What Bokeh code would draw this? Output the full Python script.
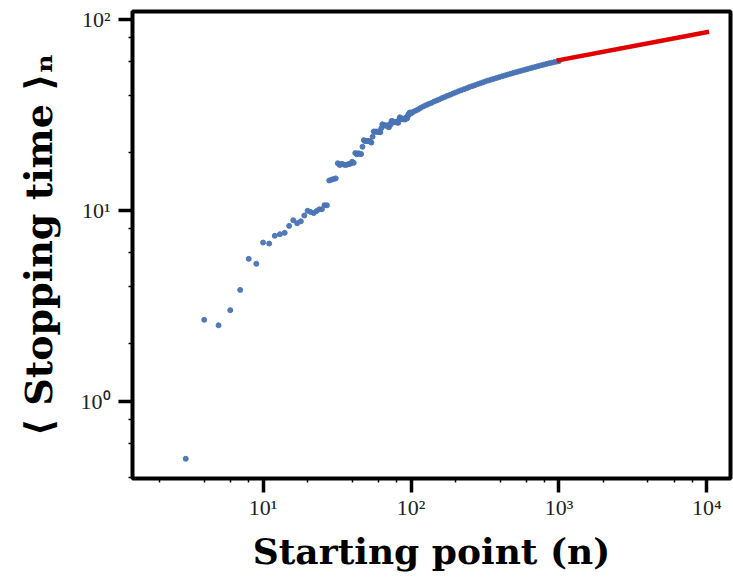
from bokeh.plotting import figure
from bokeh.models import Range1d, LogTicker, CustomJSTickFormatter, ColumnDataSource
from bokeh.embed import file_html
from bokeh.resources import INLINE

# ---- data ----
start_points = [3, 4, 5, 6, 7, 8, 9, 10, 11, 12, 13, 14, 15, 16, 17, 18, 19, 20,
                21, 22, 23, 24, 25, 26, 27, 28, 29, 30, 31, 32, 33, 34, 35, 36, 37,
                38, 39, 40, 41, 42, 43, 44, 45, 46, 47, 48, 49, 50, 51, 52, 53, 54,
                55, 56, 57, 58, 59, 60, 61, 62, 63, 64, 65, 66, 67, 68, 69, 70, 71,
                72, 73, 74, 75, 76, 77, 78, 79, 80, 81, 82, 83, 84, 85, 86, 87, 88,
                89, 90, 91, 92, 93, 94, 95, 96, 97, 98, 99, 100, 101,
                104, 108, 112, 116, 121, 126, 131, 137, 143, 149, 155, 162, 169,
                176, 184, 192, 200, 209, 218, 228, 238, 248, 259, 270, 282, 294,
                307, 320, 334, 349, 364, 380, 397, 414, 432, 451, 471, 491, 513,
                535, 558, 583, 608, 635, 662, 691, 721, 753, 786, 820, 856, 893,
                932, 973, 1001]
mean_stop = [0.5, 2.67, 2.5, 3.0, 3.83, 5.57, 5.25, 6.78, 6.7, 7.36, 7.5, 7.62,
             8.29, 8.87, 8.56, 8.76, 9.39, 9.95, 9.8, 9.67, 9.91, 10.13, 10.13,
             10.64, 10.62, 14.33, 14.46, 14.59, 14.7, 17.65, 17.25, 17.52, 17.38,
             17.26, 17.36, 17.46, 17.55, 17.97, 17.73, 19.95, 19.67, 19.88, 19.8,
             19.71, 21.54, 23.3, 23.04, 23.06, 23.08, 23.1, 22.87, 22.64, 24.3,
             25.89, 25.77, 25.88, 25.76, 25.86, 25.75, 25.64, 26.95, 28.22, 27.88,
             27.86, 27.85, 27.84, 27.63, 27.43, 27.24, 28.3, 28.21, 29.4, 29.3,
             29.09, 29.0, 28.91, 28.99, 29.06, 28.81, 28.73, 29.72, 30.69, 30.43,
             30.18, 30.17, 30.17, 30.02, 30.02, 29.88, 30.56, 30.41, 30.27, 31.06,
             31.84, 31.64, 32.53, 32.45, 32.37, 32.3,
             32.9, 33.3, 33.8, 34.4, 35.0, 35.5, 36.0, 36.5, 37.1, 37.6, 38.1,
             38.7, 39.2, 39.8, 40.3, 40.9, 41.4, 42.0, 42.5, 43.1, 43.6, 44.2,
             44.7, 45.2, 45.8, 46.3, 46.8, 47.4, 47.9, 48.4, 48.9, 49.4, 49.9,
             50.4, 50.9, 51.4, 51.9, 52.4, 52.9, 53.4, 53.9, 54.4, 54.9, 55.4,
             55.9, 56.4, 56.9, 57.4, 57.9, 58.4, 58.9, 59.3, 59.8, 60.2, 60.5]
fit_points = [1000, 10000]
fit_values = [61.2, 85.8]

x_label = "Starting point (n)"
y_label = "\u27e8 Stopping time \u27e9\u2099"

BLUE = "#4a74b4"
RED = "#e00000"

p = figure(width=733, height=578, x_axis_type="log", y_axis_type="log",
           x_range=Range1d(1.31, 14450), y_range=Range1d(0.394, 110),
           output_backend="svg", toolbar_location=None,
           min_border_left=132, min_border_right=3, min_border_top=11,
           min_border_bottom=100)

src = ColumnDataSource(dict(x=start_points, y=mean_stop))
p.scatter("x", "y", source=src, size=5, color=BLUE, alpha=0.95)
p.line(fit_points, fit_values, line_color=RED, line_width=4.5, line_cap="square")

p.xgrid.visible = False
p.ygrid.visible = False
p.outline_line_color = "black"
p.outline_line_width = 4
p.outline_line_alpha = 1
p.background_fill_color = "white"
p.border_fill_color = "white"

fmt = CustomJSTickFormatter(code="""
const sup = {'0':'\u2070','1':'\u00b9','2':'\u00b2','3':'\u00b3','4':'\u2074','-':'\u207b'};
const e = Math.round(Math.log10(tick));
return '10' + String(e).split('').map(c => sup[c]).join('');
""")

for ax in (p.xaxis[0], p.yaxis[0]):
    ax.formatter = fmt
    ax.axis_line_color = None
    ax.major_tick_in = 0
    ax.major_tick_out = 14
    ax.major_tick_line_width = 3.5
    ax.minor_tick_in = 0
    ax.minor_tick_out = 4
    ax.minor_tick_line_width = 1.5
    ax.major_label_text_font = "Liberation Serif"
    ax.major_label_text_font_size = "22px"
    ax.major_label_text_color = "#222222"
    ax.axis_label_text_font = "DejaVu Serif"
    ax.axis_label_text_font_style = "bold"
    ax.axis_label_text_color = "black"

p.xaxis[0].axis_label_text_font_size = "36px"
p.yaxis[0].axis_label_text_font_size = "38px"
p.xaxis[0].ticker = LogTicker(desired_num_ticks=4)
p.yaxis[0].ticker = LogTicker(desired_num_ticks=3)
p.xaxis[0].major_label_standoff = 2
p.yaxis[0].major_label_standoff = 8
p.xaxis[0].axis_label = x_label
p.yaxis[0].axis_label = y_label
p.xaxis[0].axis_label_standoff = 7
p.yaxis[0].axis_label_standoff = 17

open("out.html", "w").write(file_html(p, INLINE))
